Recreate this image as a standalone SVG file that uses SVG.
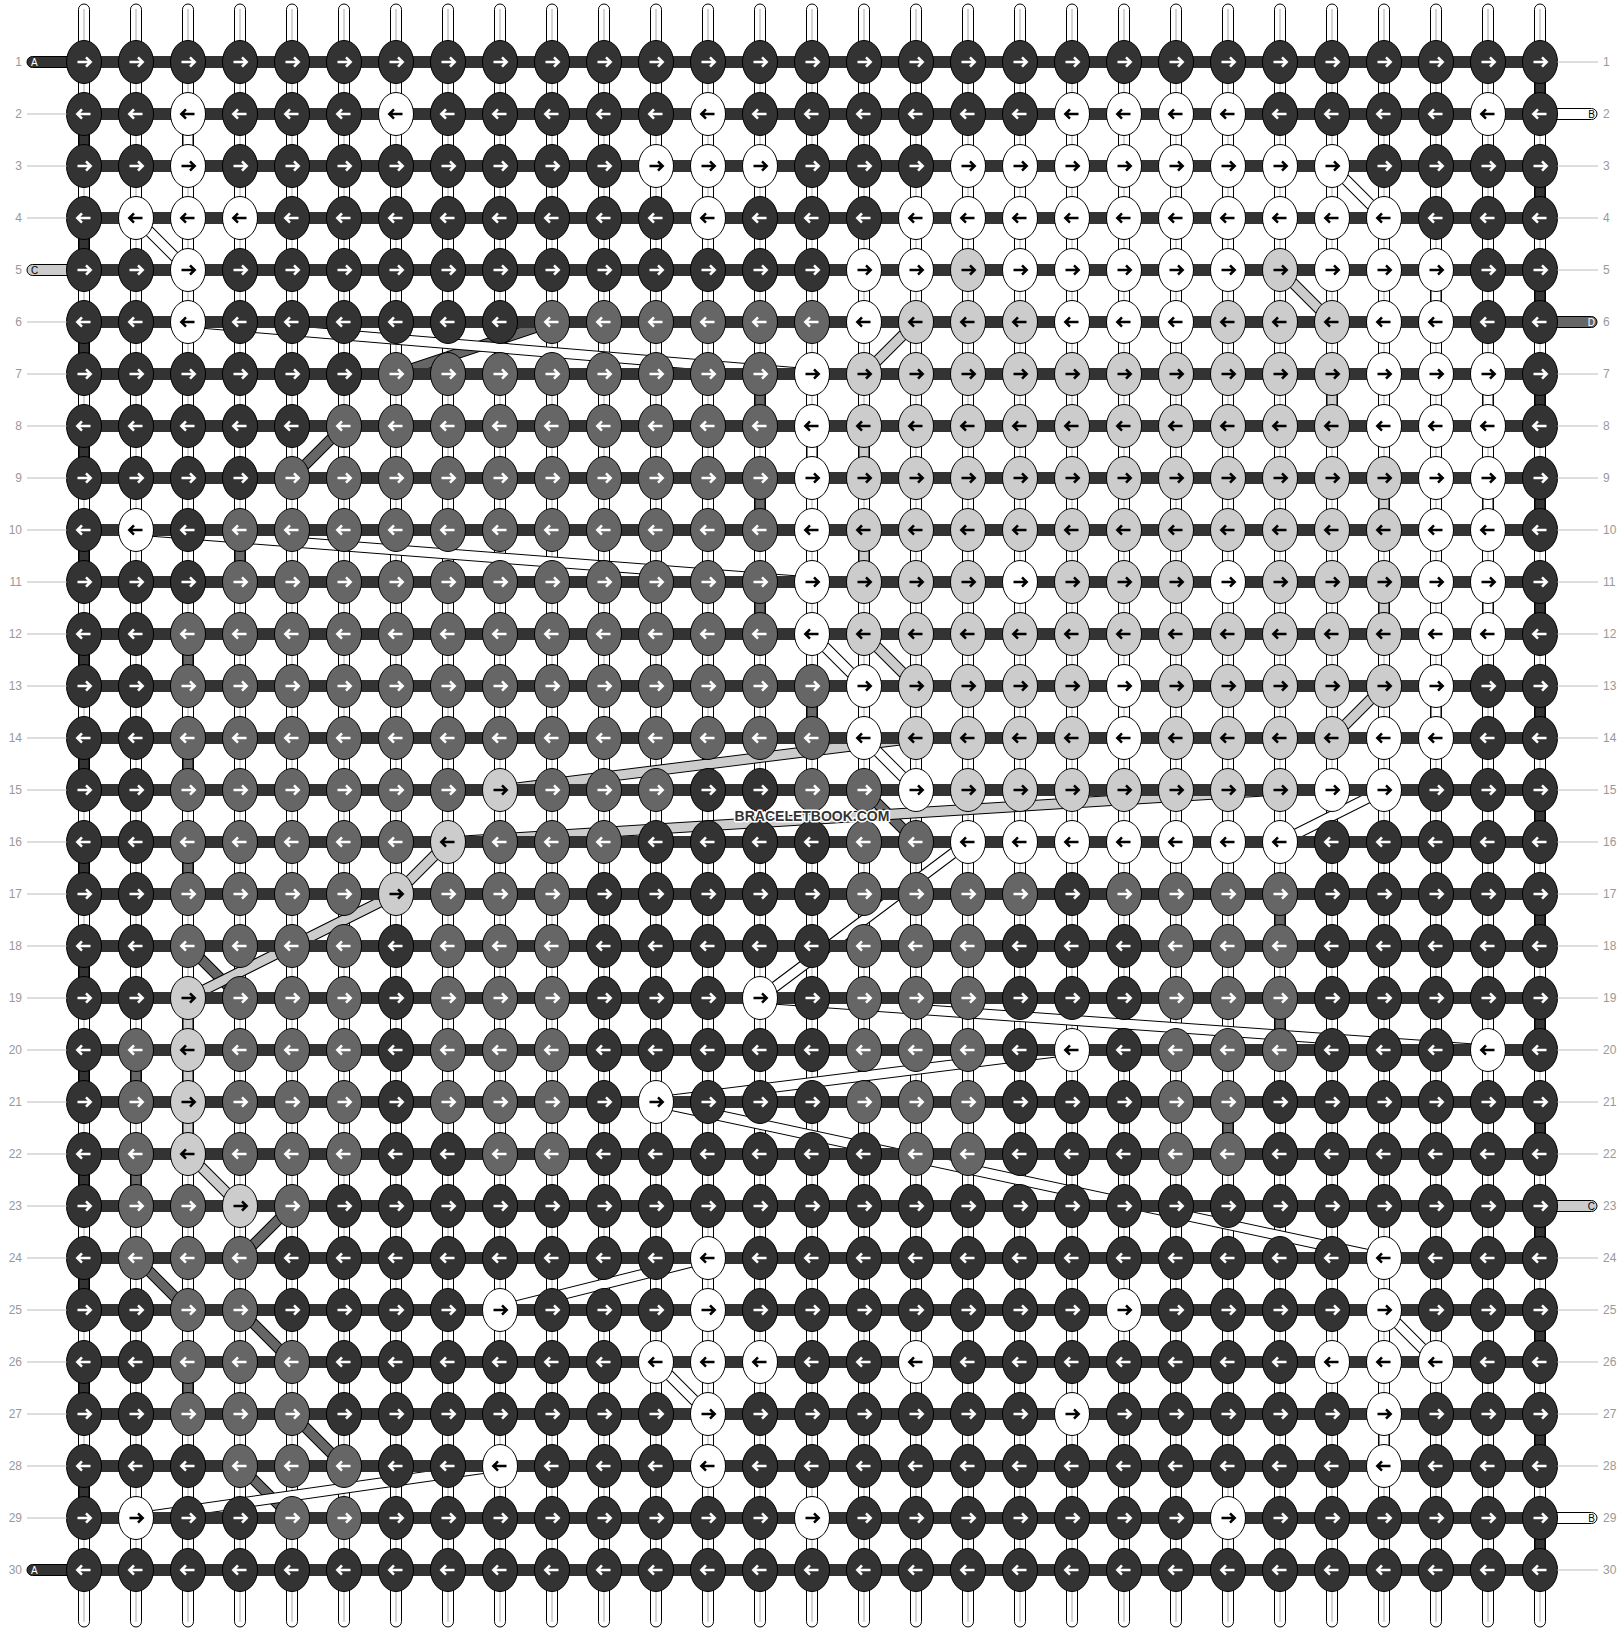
<svg xmlns="http://www.w3.org/2000/svg" width="1624" height="1632" viewBox="0 0 1624 1632">
<style>
.num{font-family:"Liberation Sans",Arial,sans-serif;font-size:12px;fill:#999}
.e{text-anchor:end}
.gl{stroke:#bbb;stroke-width:1;fill:none}
.lt{font-family:"Liberation Sans",Arial,sans-serif;font-size:10px}
.wr{fill:#fff;stroke:#000;stroke-width:1}
.wc{stroke:#aaa;stroke-width:1;fill:none}
.o{stroke:#000;stroke-width:11;fill:none}
.cw{stroke:#fff;stroke-width:9;fill:none}
.cl{stroke:#ccc;stroke-width:9;fill:none}
.cm{stroke:#666;stroke-width:9;fill:none}
.cd{stroke:#333;stroke-width:9;fill:none}
.bar{stroke:#333;stroke-width:12;fill:none}
.cap{stroke:#000;stroke-width:1}
.k{stroke:#000;stroke-width:1}
</style>
<defs>
<path id="ar" d="M-6.5,0H6M2,-4.7L6.7,0L2,4.7" fill="none" stroke-width="2.5"/>
<path id="al" d="M6.5,0H-6M-2,-4.7L-6.7,0L-2,4.7" fill="none" stroke-width="2.5"/>
<g id="dr"><ellipse class="k" rx="17.5" ry="21.5" fill="#333"/><use href="#ar" stroke="#fff"/></g>
<g id="dl"><ellipse class="k" rx="17.5" ry="21.5" fill="#333"/><use href="#al" stroke="#fff"/></g>
<g id="mr"><ellipse class="k" rx="17.5" ry="21.5" fill="#666"/><use href="#ar" stroke="#fff"/></g>
<g id="ml"><ellipse class="k" rx="17.5" ry="21.5" fill="#666"/><use href="#al" stroke="#fff"/></g>
<g id="lr"><ellipse class="k" rx="17.5" ry="21.5" fill="#ccc"/><use href="#ar" stroke="#000"/></g>
<g id="ll"><ellipse class="k" rx="17.5" ry="21.5" fill="#ccc"/><use href="#al" stroke="#000"/></g>
<g id="wr"><ellipse class="k" rx="17.5" ry="21.5" fill="#fff"/><use href="#ar" stroke="#000"/></g>
<g id="wl"><ellipse class="k" rx="17.5" ry="21.5" fill="#fff"/><use href="#al" stroke="#000"/></g>
</defs>
<g id="warps">
<rect class="wr" x="78.5" y="4" width="11" height="1623" rx="5.5"/><rect class="wr" x="130.5" y="4" width="11" height="1623" rx="5.5"/><rect class="wr" x="182.5" y="4" width="11" height="1623" rx="5.5"/><rect class="wr" x="234.5" y="4" width="11" height="1623" rx="5.5"/><rect class="wr" x="286.5" y="4" width="11" height="1623" rx="5.5"/><rect class="wr" x="338.5" y="4" width="11" height="1623" rx="5.5"/><rect class="wr" x="390.5" y="4" width="11" height="1623" rx="5.5"/><rect class="wr" x="442.5" y="4" width="11" height="1623" rx="5.5"/><rect class="wr" x="494.5" y="4" width="11" height="1623" rx="5.5"/><rect class="wr" x="546.5" y="4" width="11" height="1623" rx="5.5"/><rect class="wr" x="598.5" y="4" width="11" height="1623" rx="5.5"/><rect class="wr" x="650.5" y="4" width="11" height="1623" rx="5.5"/><rect class="wr" x="702.5" y="4" width="11" height="1623" rx="5.5"/><rect class="wr" x="754.5" y="4" width="11" height="1623" rx="5.5"/><rect class="wr" x="806.5" y="4" width="11" height="1623" rx="5.5"/><rect class="wr" x="858.5" y="4" width="11" height="1623" rx="5.5"/><rect class="wr" x="910.5" y="4" width="11" height="1623" rx="5.5"/><rect class="wr" x="962.5" y="4" width="11" height="1623" rx="5.5"/><rect class="wr" x="1014.5" y="4" width="11" height="1623" rx="5.5"/><rect class="wr" x="1066.5" y="4" width="11" height="1623" rx="5.5"/><rect class="wr" x="1118.5" y="4" width="11" height="1623" rx="5.5"/><rect class="wr" x="1170.5" y="4" width="11" height="1623" rx="5.5"/><rect class="wr" x="1222.5" y="4" width="11" height="1623" rx="5.5"/><rect class="wr" x="1274.5" y="4" width="11" height="1623" rx="5.5"/><rect class="wr" x="1326.5" y="4" width="11" height="1623" rx="5.5"/><rect class="wr" x="1378.5" y="4" width="11" height="1623" rx="5.5"/><rect class="wr" x="1430.5" y="4" width="11" height="1623" rx="5.5"/><rect class="wr" x="1482.5" y="4" width="11" height="1623" rx="5.5"/><rect class="wr" x="1534.5" y="4" width="11" height="1623" rx="5.5"/>
<path class="wc" d="M84 9V1622M136 9V1622M188 9V1622M240 9V1622M292 9V1622M344 9V1622M396 9V1622M448 9V1622M500 9V1622M552 9V1622M604 9V1622M656 9V1622M708 9V1622M760 9V1622M812 9V1622M864 9V1622M916 9V1622M968 9V1622M1020 9V1622M1072 9V1622M1124 9V1622M1176 9V1622M1228 9V1622M1280 9V1622M1332 9V1622M1384 9V1622M1436 9V1622M1488 9V1622M1540 9V1622"/>
</g>
<g id="connectors">
<g id="bands-medium"><path class="o" d="M552 322L396 374M344 426L292 478M864 790L916 842M188 946L240 998M292 1206L240 1258M136 1258L188 1310M240 1310L292 1362M292 1414L344 1466M240 1466L292 1518"/><path class="cm" d="M552 322L396 374M344 426L292 478M864 790L916 842M188 946L240 998M292 1206L240 1258M136 1258L188 1310M240 1310L292 1362M292 1414L344 1466M240 1466L292 1518"/></g>
<g id="bands-light"><path class="o" d="M1280 270L1332 322M916 322L864 374M864 634L916 686M1384 686L1332 738M916 738L500 790M1280 790L448 842M448 842L396 894M396 894L188 998M188 1154L240 1206"/><path class="cl" d="M1280 270L1332 322M916 322L864 374M864 634L916 686M1384 686L1332 738M916 738L500 790M1280 790L448 842M448 842L396 894M396 894L188 998M188 1154L240 1206"/></g>
<g id="bands-white"><path class="o" d="M1332 166L1384 218M136 218L188 270M188 322L812 374M136 530L812 582M812 634L864 686M864 738L916 790M1384 790L1280 842M968 842L760 998M760 998L1488 1050M1072 1050L656 1102M656 1102L1384 1258M708 1258L500 1310M1384 1310L1436 1362M656 1362L708 1414M500 1466L136 1518"/><path class="cw" d="M1332 166L1384 218M136 218L188 270M188 322L812 374M136 530L812 582M812 634L864 686M864 738L916 790M1384 790L1280 842M968 842L760 998M760 998L1488 1050M1072 1050L656 1102M656 1102L1384 1258M708 1258L500 1310M1384 1310L1436 1362M656 1362L708 1414M500 1466L136 1518"/></g>
<g id="verticals"><path class="o" d="M1540 62V114M1540 166V218M1540 270V322M1540 374V426M1540 478V530M1540 582V634M1540 686V738M1540 790V842M1540 894V946M1540 998V1050M1540 1102V1154M1540 1206V1258M1540 1310V1362M1540 1414V1466M1540 1518V1570M84 114V166M84 218V270M84 322V374M84 426V478M84 530V582M84 634V686M84 738V790M84 842V894M84 946V998M84 1050V1102M84 1154V1206M84 1258V1310M84 1362V1414M84 1466V1518"/><path class="cd" d="M1540 62V114M1540 166V218M1540 270V322M1540 374V426M1540 478V530M1540 582V634M1540 686V738M1540 790V842M1540 894V946M1540 998V1050M1540 1102V1154M1540 1206V1258M1540 1310V1362M1540 1414V1466M1540 1518V1570M84 114V166M84 218V270M84 322V374M84 426V478M84 530V582M84 634V686M84 738V790M84 842V894M84 946V998M84 1050V1102M84 1154V1206M84 1258V1310M84 1362V1414M84 1466V1518"/>
<path class="o" d="M760 374V426M760 478V530M240 530V582M760 582V634M188 634V686M812 686V738M188 738V790M188 842V894M1280 894V946M1280 998V1050M136 1050V1102M1228 1102V1154M136 1154V1206M188 1362V1414"/><path class="cm" d="M760 374V426M760 478V530M240 530V582M760 582V634M188 634V686M812 686V738M188 738V790M188 842V894M1280 894V946M1280 998V1050M136 1050V1102M1228 1102V1154M136 1154V1206M188 1362V1414"/>
<path class="o" d="M1332 374V426M864 426V478M1384 478V530M864 530V582M1384 582V634M188 998V1154"/><path class="cl" d="M1332 374V426M864 426V478M1384 478V530M864 530V582M1384 582V634M188 998V1154"/>
<path class="o" d="M188 114V166M1436 270V322M1488 374V426M812 426V478M1488 478V530M1488 582V634M1436 686V738M1384 1414V1466"/><path class="cw" d="M188 114V166M1436 270V322M1488 374V426M812 426V478M1488 478V530M1488 582V634M1436 686V738M1384 1414V1466"/></g>
<path id="bars" class="bar" d="M84 62H1540M84 114H1540M84 166H1540M84 218H1540M84 270H1540M84 322H1540M84 374H1540M84 426H1540M84 478H1540M84 530H1540M84 582H1540M84 634H1540M84 686H1540M84 738H1540M84 790H1540M84 842H1540M84 894H1540M84 946H1540M84 998H1540M84 1050H1540M84 1102H1540M84 1154H1540M84 1206H1540M84 1258H1540M84 1310H1540M84 1362H1540M84 1414H1540M84 1466H1540M84 1518H1540M84 1570H1540"/>
<g id="string-ends">
<rect class="cap" x="27" y="56.5" width="62" height="11" rx="5.5" fill="#333"/>
<rect class="cap" x="27" y="264.5" width="62" height="11" rx="5.5" fill="#ccc"/>
<rect class="cap" x="27" y="1564.5" width="62" height="11" rx="5.5" fill="#333"/>
<rect class="cap" x="1535" y="108.5" width="62" height="11" rx="5.5" fill="#fff"/>
<rect class="cap" x="1535" y="316.5" width="62" height="11" rx="5.5" fill="#666"/>
<rect class="cap" x="1535" y="1200.5" width="62" height="11" rx="5.5" fill="#ccc"/>
<rect class="cap" x="1535" y="1512.5" width="62" height="11" rx="5.5" fill="#fff"/>
</g>
</g>
<g id="knots">
<g id="row1" transform="translate(0,62)"><use href="#dr" x="84"/><use href="#dr" x="136"/><use href="#dr" x="188"/><use href="#dr" x="240"/><use href="#dr" x="292"/><use href="#dr" x="344"/><use href="#dr" x="396"/><use href="#dr" x="448"/><use href="#dr" x="500"/><use href="#dr" x="552"/><use href="#dr" x="604"/><use href="#dr" x="656"/><use href="#dr" x="708"/><use href="#dr" x="760"/><use href="#dr" x="812"/><use href="#dr" x="864"/><use href="#dr" x="916"/><use href="#dr" x="968"/><use href="#dr" x="1020"/><use href="#dr" x="1072"/><use href="#dr" x="1124"/><use href="#dr" x="1176"/><use href="#dr" x="1228"/><use href="#dr" x="1280"/><use href="#dr" x="1332"/><use href="#dr" x="1384"/><use href="#dr" x="1436"/><use href="#dr" x="1488"/><use href="#dr" x="1540"/></g>
<g id="row2" transform="translate(0,114)"><use href="#dl" x="84"/><use href="#dl" x="136"/><use href="#wl" x="188"/><use href="#dl" x="240"/><use href="#dl" x="292"/><use href="#dl" x="344"/><use href="#wl" x="396"/><use href="#dl" x="448"/><use href="#dl" x="500"/><use href="#dl" x="552"/><use href="#dl" x="604"/><use href="#dl" x="656"/><use href="#wl" x="708"/><use href="#dl" x="760"/><use href="#dl" x="812"/><use href="#dl" x="864"/><use href="#dl" x="916"/><use href="#dl" x="968"/><use href="#dl" x="1020"/><use href="#wl" x="1072"/><use href="#wl" x="1124"/><use href="#wl" x="1176"/><use href="#wl" x="1228"/><use href="#dl" x="1280"/><use href="#dl" x="1332"/><use href="#dl" x="1384"/><use href="#dl" x="1436"/><use href="#wl" x="1488"/><use href="#dl" x="1540"/></g>
<g id="row3" transform="translate(0,166)"><use href="#dr" x="84"/><use href="#dr" x="136"/><use href="#wr" x="188"/><use href="#dr" x="240"/><use href="#dr" x="292"/><use href="#dr" x="344"/><use href="#dr" x="396"/><use href="#dr" x="448"/><use href="#dr" x="500"/><use href="#dr" x="552"/><use href="#dr" x="604"/><use href="#wr" x="656"/><use href="#wr" x="708"/><use href="#wr" x="760"/><use href="#dr" x="812"/><use href="#dr" x="864"/><use href="#dr" x="916"/><use href="#wr" x="968"/><use href="#wr" x="1020"/><use href="#wr" x="1072"/><use href="#wr" x="1124"/><use href="#wr" x="1176"/><use href="#wr" x="1228"/><use href="#wr" x="1280"/><use href="#wr" x="1332"/><use href="#dr" x="1384"/><use href="#dr" x="1436"/><use href="#dr" x="1488"/><use href="#dr" x="1540"/></g>
<g id="row4" transform="translate(0,218)"><use href="#dl" x="84"/><use href="#wl" x="136"/><use href="#wl" x="188"/><use href="#wl" x="240"/><use href="#dl" x="292"/><use href="#dl" x="344"/><use href="#dl" x="396"/><use href="#dl" x="448"/><use href="#dl" x="500"/><use href="#dl" x="552"/><use href="#dl" x="604"/><use href="#dl" x="656"/><use href="#wl" x="708"/><use href="#dl" x="760"/><use href="#dl" x="812"/><use href="#dl" x="864"/><use href="#wl" x="916"/><use href="#wl" x="968"/><use href="#wl" x="1020"/><use href="#wl" x="1072"/><use href="#wl" x="1124"/><use href="#wl" x="1176"/><use href="#wl" x="1228"/><use href="#wl" x="1280"/><use href="#wl" x="1332"/><use href="#wl" x="1384"/><use href="#dl" x="1436"/><use href="#dl" x="1488"/><use href="#dl" x="1540"/></g>
<g id="row5" transform="translate(0,270)"><use href="#dr" x="84"/><use href="#dr" x="136"/><use href="#wr" x="188"/><use href="#dr" x="240"/><use href="#dr" x="292"/><use href="#dr" x="344"/><use href="#dr" x="396"/><use href="#dr" x="448"/><use href="#dr" x="500"/><use href="#dr" x="552"/><use href="#dr" x="604"/><use href="#dr" x="656"/><use href="#dr" x="708"/><use href="#dr" x="760"/><use href="#dr" x="812"/><use href="#wr" x="864"/><use href="#wr" x="916"/><use href="#lr" x="968"/><use href="#wr" x="1020"/><use href="#wr" x="1072"/><use href="#wr" x="1124"/><use href="#wr" x="1176"/><use href="#wr" x="1228"/><use href="#lr" x="1280"/><use href="#wr" x="1332"/><use href="#wr" x="1384"/><use href="#wr" x="1436"/><use href="#dr" x="1488"/><use href="#dr" x="1540"/></g>
<g id="row6" transform="translate(0,322)"><use href="#dl" x="84"/><use href="#dl" x="136"/><use href="#wl" x="188"/><use href="#dl" x="240"/><use href="#dl" x="292"/><use href="#dl" x="344"/><use href="#dl" x="396"/><use href="#dl" x="448"/><use href="#dl" x="500"/><use href="#ml" x="552"/><use href="#ml" x="604"/><use href="#ml" x="656"/><use href="#ml" x="708"/><use href="#ml" x="760"/><use href="#ml" x="812"/><use href="#wl" x="864"/><use href="#ll" x="916"/><use href="#ll" x="968"/><use href="#ll" x="1020"/><use href="#wl" x="1072"/><use href="#wl" x="1124"/><use href="#wl" x="1176"/><use href="#ll" x="1228"/><use href="#ll" x="1280"/><use href="#ll" x="1332"/><use href="#wl" x="1384"/><use href="#wl" x="1436"/><use href="#dl" x="1488"/><use href="#dl" x="1540"/></g>
<g id="row7" transform="translate(0,374)"><use href="#dr" x="84"/><use href="#dr" x="136"/><use href="#dr" x="188"/><use href="#dr" x="240"/><use href="#dr" x="292"/><use href="#dr" x="344"/><use href="#mr" x="396"/><use href="#mr" x="448"/><use href="#mr" x="500"/><use href="#mr" x="552"/><use href="#mr" x="604"/><use href="#mr" x="656"/><use href="#mr" x="708"/><use href="#mr" x="760"/><use href="#wr" x="812"/><use href="#lr" x="864"/><use href="#lr" x="916"/><use href="#lr" x="968"/><use href="#lr" x="1020"/><use href="#lr" x="1072"/><use href="#lr" x="1124"/><use href="#lr" x="1176"/><use href="#lr" x="1228"/><use href="#lr" x="1280"/><use href="#lr" x="1332"/><use href="#wr" x="1384"/><use href="#wr" x="1436"/><use href="#wr" x="1488"/><use href="#dr" x="1540"/></g>
<g id="row8" transform="translate(0,426)"><use href="#dl" x="84"/><use href="#dl" x="136"/><use href="#dl" x="188"/><use href="#dl" x="240"/><use href="#dl" x="292"/><use href="#ml" x="344"/><use href="#ml" x="396"/><use href="#ml" x="448"/><use href="#ml" x="500"/><use href="#ml" x="552"/><use href="#ml" x="604"/><use href="#ml" x="656"/><use href="#ml" x="708"/><use href="#ml" x="760"/><use href="#wl" x="812"/><use href="#ll" x="864"/><use href="#ll" x="916"/><use href="#ll" x="968"/><use href="#ll" x="1020"/><use href="#ll" x="1072"/><use href="#ll" x="1124"/><use href="#ll" x="1176"/><use href="#ll" x="1228"/><use href="#ll" x="1280"/><use href="#ll" x="1332"/><use href="#wl" x="1384"/><use href="#wl" x="1436"/><use href="#wl" x="1488"/><use href="#dl" x="1540"/></g>
<g id="row9" transform="translate(0,478)"><use href="#dr" x="84"/><use href="#dr" x="136"/><use href="#dr" x="188"/><use href="#dr" x="240"/><use href="#mr" x="292"/><use href="#mr" x="344"/><use href="#mr" x="396"/><use href="#mr" x="448"/><use href="#mr" x="500"/><use href="#mr" x="552"/><use href="#mr" x="604"/><use href="#mr" x="656"/><use href="#mr" x="708"/><use href="#mr" x="760"/><use href="#wr" x="812"/><use href="#lr" x="864"/><use href="#lr" x="916"/><use href="#lr" x="968"/><use href="#lr" x="1020"/><use href="#lr" x="1072"/><use href="#lr" x="1124"/><use href="#lr" x="1176"/><use href="#lr" x="1228"/><use href="#lr" x="1280"/><use href="#lr" x="1332"/><use href="#lr" x="1384"/><use href="#wr" x="1436"/><use href="#wr" x="1488"/><use href="#dr" x="1540"/></g>
<g id="row10" transform="translate(0,530)"><use href="#dl" x="84"/><use href="#wl" x="136"/><use href="#dl" x="188"/><use href="#ml" x="240"/><use href="#ml" x="292"/><use href="#ml" x="344"/><use href="#ml" x="396"/><use href="#ml" x="448"/><use href="#ml" x="500"/><use href="#ml" x="552"/><use href="#ml" x="604"/><use href="#ml" x="656"/><use href="#ml" x="708"/><use href="#ml" x="760"/><use href="#wl" x="812"/><use href="#ll" x="864"/><use href="#ll" x="916"/><use href="#ll" x="968"/><use href="#ll" x="1020"/><use href="#ll" x="1072"/><use href="#ll" x="1124"/><use href="#ll" x="1176"/><use href="#ll" x="1228"/><use href="#ll" x="1280"/><use href="#ll" x="1332"/><use href="#ll" x="1384"/><use href="#wl" x="1436"/><use href="#wl" x="1488"/><use href="#dl" x="1540"/></g>
<g id="row11" transform="translate(0,582)"><use href="#dr" x="84"/><use href="#dr" x="136"/><use href="#dr" x="188"/><use href="#mr" x="240"/><use href="#mr" x="292"/><use href="#mr" x="344"/><use href="#mr" x="396"/><use href="#mr" x="448"/><use href="#mr" x="500"/><use href="#mr" x="552"/><use href="#mr" x="604"/><use href="#mr" x="656"/><use href="#mr" x="708"/><use href="#mr" x="760"/><use href="#wr" x="812"/><use href="#lr" x="864"/><use href="#lr" x="916"/><use href="#lr" x="968"/><use href="#wr" x="1020"/><use href="#lr" x="1072"/><use href="#lr" x="1124"/><use href="#lr" x="1176"/><use href="#wr" x="1228"/><use href="#lr" x="1280"/><use href="#lr" x="1332"/><use href="#lr" x="1384"/><use href="#wr" x="1436"/><use href="#wr" x="1488"/><use href="#dr" x="1540"/></g>
<g id="row12" transform="translate(0,634)"><use href="#dl" x="84"/><use href="#dl" x="136"/><use href="#ml" x="188"/><use href="#ml" x="240"/><use href="#ml" x="292"/><use href="#ml" x="344"/><use href="#ml" x="396"/><use href="#ml" x="448"/><use href="#ml" x="500"/><use href="#ml" x="552"/><use href="#ml" x="604"/><use href="#ml" x="656"/><use href="#ml" x="708"/><use href="#ml" x="760"/><use href="#wl" x="812"/><use href="#ll" x="864"/><use href="#ll" x="916"/><use href="#ll" x="968"/><use href="#ll" x="1020"/><use href="#ll" x="1072"/><use href="#ll" x="1124"/><use href="#ll" x="1176"/><use href="#ll" x="1228"/><use href="#ll" x="1280"/><use href="#ll" x="1332"/><use href="#ll" x="1384"/><use href="#wl" x="1436"/><use href="#wl" x="1488"/><use href="#dl" x="1540"/></g>
<g id="row13" transform="translate(0,686)"><use href="#dr" x="84"/><use href="#dr" x="136"/><use href="#mr" x="188"/><use href="#mr" x="240"/><use href="#mr" x="292"/><use href="#mr" x="344"/><use href="#mr" x="396"/><use href="#mr" x="448"/><use href="#mr" x="500"/><use href="#mr" x="552"/><use href="#mr" x="604"/><use href="#mr" x="656"/><use href="#mr" x="708"/><use href="#mr" x="760"/><use href="#mr" x="812"/><use href="#wr" x="864"/><use href="#lr" x="916"/><use href="#lr" x="968"/><use href="#lr" x="1020"/><use href="#lr" x="1072"/><use href="#wr" x="1124"/><use href="#lr" x="1176"/><use href="#lr" x="1228"/><use href="#lr" x="1280"/><use href="#lr" x="1332"/><use href="#lr" x="1384"/><use href="#wr" x="1436"/><use href="#dr" x="1488"/><use href="#dr" x="1540"/></g>
<g id="row14" transform="translate(0,738)"><use href="#dl" x="84"/><use href="#dl" x="136"/><use href="#ml" x="188"/><use href="#ml" x="240"/><use href="#ml" x="292"/><use href="#ml" x="344"/><use href="#ml" x="396"/><use href="#ml" x="448"/><use href="#ml" x="500"/><use href="#ml" x="552"/><use href="#ml" x="604"/><use href="#ml" x="656"/><use href="#ml" x="708"/><use href="#ml" x="760"/><use href="#ml" x="812"/><use href="#wl" x="864"/><use href="#ll" x="916"/><use href="#ll" x="968"/><use href="#ll" x="1020"/><use href="#ll" x="1072"/><use href="#wl" x="1124"/><use href="#ll" x="1176"/><use href="#ll" x="1228"/><use href="#ll" x="1280"/><use href="#ll" x="1332"/><use href="#wl" x="1384"/><use href="#wl" x="1436"/><use href="#dl" x="1488"/><use href="#dl" x="1540"/></g>
<g id="row15" transform="translate(0,790)"><use href="#dr" x="84"/><use href="#dr" x="136"/><use href="#mr" x="188"/><use href="#mr" x="240"/><use href="#mr" x="292"/><use href="#mr" x="344"/><use href="#mr" x="396"/><use href="#mr" x="448"/><use href="#lr" x="500"/><use href="#mr" x="552"/><use href="#mr" x="604"/><use href="#mr" x="656"/><use href="#dr" x="708"/><use href="#dr" x="760"/><use href="#mr" x="812"/><use href="#mr" x="864"/><use href="#wr" x="916"/><use href="#lr" x="968"/><use href="#lr" x="1020"/><use href="#lr" x="1072"/><use href="#lr" x="1124"/><use href="#lr" x="1176"/><use href="#lr" x="1228"/><use href="#lr" x="1280"/><use href="#wr" x="1332"/><use href="#wr" x="1384"/><use href="#dr" x="1436"/><use href="#dr" x="1488"/><use href="#dr" x="1540"/></g>
<g id="row16" transform="translate(0,842)"><use href="#dl" x="84"/><use href="#dl" x="136"/><use href="#ml" x="188"/><use href="#ml" x="240"/><use href="#ml" x="292"/><use href="#ml" x="344"/><use href="#ml" x="396"/><use href="#ll" x="448"/><use href="#ml" x="500"/><use href="#ml" x="552"/><use href="#ml" x="604"/><use href="#dl" x="656"/><use href="#dl" x="708"/><use href="#dl" x="760"/><use href="#dl" x="812"/><use href="#ml" x="864"/><use href="#ml" x="916"/><use href="#wl" x="968"/><use href="#wl" x="1020"/><use href="#wl" x="1072"/><use href="#wl" x="1124"/><use href="#wl" x="1176"/><use href="#wl" x="1228"/><use href="#wl" x="1280"/><use href="#dl" x="1332"/><use href="#dl" x="1384"/><use href="#dl" x="1436"/><use href="#dl" x="1488"/><use href="#dl" x="1540"/></g>
<g id="row17" transform="translate(0,894)"><use href="#dr" x="84"/><use href="#dr" x="136"/><use href="#mr" x="188"/><use href="#mr" x="240"/><use href="#mr" x="292"/><use href="#mr" x="344"/><use href="#lr" x="396"/><use href="#mr" x="448"/><use href="#mr" x="500"/><use href="#mr" x="552"/><use href="#dr" x="604"/><use href="#dr" x="656"/><use href="#dr" x="708"/><use href="#dr" x="760"/><use href="#dr" x="812"/><use href="#mr" x="864"/><use href="#mr" x="916"/><use href="#mr" x="968"/><use href="#mr" x="1020"/><use href="#dr" x="1072"/><use href="#mr" x="1124"/><use href="#mr" x="1176"/><use href="#mr" x="1228"/><use href="#mr" x="1280"/><use href="#dr" x="1332"/><use href="#dr" x="1384"/><use href="#dr" x="1436"/><use href="#dr" x="1488"/><use href="#dr" x="1540"/></g>
<g id="row18" transform="translate(0,946)"><use href="#dl" x="84"/><use href="#dl" x="136"/><use href="#ml" x="188"/><use href="#ml" x="240"/><use href="#ml" x="292"/><use href="#ml" x="344"/><use href="#dl" x="396"/><use href="#ml" x="448"/><use href="#ml" x="500"/><use href="#ml" x="552"/><use href="#dl" x="604"/><use href="#dl" x="656"/><use href="#dl" x="708"/><use href="#dl" x="760"/><use href="#dl" x="812"/><use href="#ml" x="864"/><use href="#ml" x="916"/><use href="#ml" x="968"/><use href="#dl" x="1020"/><use href="#dl" x="1072"/><use href="#dl" x="1124"/><use href="#ml" x="1176"/><use href="#ml" x="1228"/><use href="#ml" x="1280"/><use href="#dl" x="1332"/><use href="#dl" x="1384"/><use href="#dl" x="1436"/><use href="#dl" x="1488"/><use href="#dl" x="1540"/></g>
<g id="row19" transform="translate(0,998)"><use href="#dr" x="84"/><use href="#dr" x="136"/><use href="#lr" x="188"/><use href="#mr" x="240"/><use href="#mr" x="292"/><use href="#mr" x="344"/><use href="#dr" x="396"/><use href="#mr" x="448"/><use href="#mr" x="500"/><use href="#mr" x="552"/><use href="#dr" x="604"/><use href="#dr" x="656"/><use href="#dr" x="708"/><use href="#wr" x="760"/><use href="#dr" x="812"/><use href="#mr" x="864"/><use href="#mr" x="916"/><use href="#mr" x="968"/><use href="#dr" x="1020"/><use href="#dr" x="1072"/><use href="#dr" x="1124"/><use href="#mr" x="1176"/><use href="#mr" x="1228"/><use href="#mr" x="1280"/><use href="#dr" x="1332"/><use href="#dr" x="1384"/><use href="#dr" x="1436"/><use href="#dr" x="1488"/><use href="#dr" x="1540"/></g>
<g id="row20" transform="translate(0,1050)"><use href="#dl" x="84"/><use href="#ml" x="136"/><use href="#ll" x="188"/><use href="#ml" x="240"/><use href="#ml" x="292"/><use href="#ml" x="344"/><use href="#dl" x="396"/><use href="#ml" x="448"/><use href="#ml" x="500"/><use href="#ml" x="552"/><use href="#dl" x="604"/><use href="#dl" x="656"/><use href="#dl" x="708"/><use href="#dl" x="760"/><use href="#dl" x="812"/><use href="#ml" x="864"/><use href="#ml" x="916"/><use href="#ml" x="968"/><use href="#dl" x="1020"/><use href="#wl" x="1072"/><use href="#dl" x="1124"/><use href="#ml" x="1176"/><use href="#ml" x="1228"/><use href="#ml" x="1280"/><use href="#dl" x="1332"/><use href="#dl" x="1384"/><use href="#dl" x="1436"/><use href="#wl" x="1488"/><use href="#dl" x="1540"/></g>
<g id="row21" transform="translate(0,1102)"><use href="#dr" x="84"/><use href="#mr" x="136"/><use href="#lr" x="188"/><use href="#mr" x="240"/><use href="#mr" x="292"/><use href="#mr" x="344"/><use href="#dr" x="396"/><use href="#mr" x="448"/><use href="#mr" x="500"/><use href="#mr" x="552"/><use href="#dr" x="604"/><use href="#wr" x="656"/><use href="#dr" x="708"/><use href="#dr" x="760"/><use href="#dr" x="812"/><use href="#mr" x="864"/><use href="#mr" x="916"/><use href="#mr" x="968"/><use href="#dr" x="1020"/><use href="#dr" x="1072"/><use href="#dr" x="1124"/><use href="#mr" x="1176"/><use href="#mr" x="1228"/><use href="#dr" x="1280"/><use href="#dr" x="1332"/><use href="#dr" x="1384"/><use href="#dr" x="1436"/><use href="#dr" x="1488"/><use href="#dr" x="1540"/></g>
<g id="row22" transform="translate(0,1154)"><use href="#dl" x="84"/><use href="#ml" x="136"/><use href="#ll" x="188"/><use href="#ml" x="240"/><use href="#ml" x="292"/><use href="#ml" x="344"/><use href="#dl" x="396"/><use href="#dl" x="448"/><use href="#ml" x="500"/><use href="#ml" x="552"/><use href="#dl" x="604"/><use href="#dl" x="656"/><use href="#dl" x="708"/><use href="#dl" x="760"/><use href="#dl" x="812"/><use href="#dl" x="864"/><use href="#ml" x="916"/><use href="#ml" x="968"/><use href="#dl" x="1020"/><use href="#dl" x="1072"/><use href="#dl" x="1124"/><use href="#ml" x="1176"/><use href="#ml" x="1228"/><use href="#dl" x="1280"/><use href="#dl" x="1332"/><use href="#dl" x="1384"/><use href="#dl" x="1436"/><use href="#dl" x="1488"/><use href="#dl" x="1540"/></g>
<g id="row23" transform="translate(0,1206)"><use href="#dr" x="84"/><use href="#mr" x="136"/><use href="#mr" x="188"/><use href="#lr" x="240"/><use href="#mr" x="292"/><use href="#dr" x="344"/><use href="#dr" x="396"/><use href="#dr" x="448"/><use href="#dr" x="500"/><use href="#dr" x="552"/><use href="#dr" x="604"/><use href="#dr" x="656"/><use href="#dr" x="708"/><use href="#dr" x="760"/><use href="#dr" x="812"/><use href="#dr" x="864"/><use href="#dr" x="916"/><use href="#dr" x="968"/><use href="#dr" x="1020"/><use href="#dr" x="1072"/><use href="#dr" x="1124"/><use href="#dr" x="1176"/><use href="#dr" x="1228"/><use href="#dr" x="1280"/><use href="#dr" x="1332"/><use href="#dr" x="1384"/><use href="#dr" x="1436"/><use href="#dr" x="1488"/><use href="#dr" x="1540"/></g>
<g id="row24" transform="translate(0,1258)"><use href="#dl" x="84"/><use href="#ml" x="136"/><use href="#ml" x="188"/><use href="#ml" x="240"/><use href="#dl" x="292"/><use href="#dl" x="344"/><use href="#dl" x="396"/><use href="#dl" x="448"/><use href="#dl" x="500"/><use href="#dl" x="552"/><use href="#dl" x="604"/><use href="#dl" x="656"/><use href="#wl" x="708"/><use href="#dl" x="760"/><use href="#dl" x="812"/><use href="#dl" x="864"/><use href="#dl" x="916"/><use href="#dl" x="968"/><use href="#dl" x="1020"/><use href="#dl" x="1072"/><use href="#dl" x="1124"/><use href="#dl" x="1176"/><use href="#dl" x="1228"/><use href="#dl" x="1280"/><use href="#dl" x="1332"/><use href="#wl" x="1384"/><use href="#dl" x="1436"/><use href="#dl" x="1488"/><use href="#dl" x="1540"/></g>
<g id="row25" transform="translate(0,1310)"><use href="#dr" x="84"/><use href="#dr" x="136"/><use href="#mr" x="188"/><use href="#mr" x="240"/><use href="#dr" x="292"/><use href="#dr" x="344"/><use href="#dr" x="396"/><use href="#dr" x="448"/><use href="#wr" x="500"/><use href="#dr" x="552"/><use href="#dr" x="604"/><use href="#dr" x="656"/><use href="#wr" x="708"/><use href="#dr" x="760"/><use href="#dr" x="812"/><use href="#dr" x="864"/><use href="#dr" x="916"/><use href="#dr" x="968"/><use href="#dr" x="1020"/><use href="#dr" x="1072"/><use href="#wr" x="1124"/><use href="#dr" x="1176"/><use href="#dr" x="1228"/><use href="#dr" x="1280"/><use href="#dr" x="1332"/><use href="#wr" x="1384"/><use href="#dr" x="1436"/><use href="#dr" x="1488"/><use href="#dr" x="1540"/></g>
<g id="row26" transform="translate(0,1362)"><use href="#dl" x="84"/><use href="#dl" x="136"/><use href="#ml" x="188"/><use href="#ml" x="240"/><use href="#ml" x="292"/><use href="#dl" x="344"/><use href="#dl" x="396"/><use href="#dl" x="448"/><use href="#dl" x="500"/><use href="#dl" x="552"/><use href="#dl" x="604"/><use href="#wl" x="656"/><use href="#wl" x="708"/><use href="#wl" x="760"/><use href="#dl" x="812"/><use href="#dl" x="864"/><use href="#wl" x="916"/><use href="#dl" x="968"/><use href="#dl" x="1020"/><use href="#dl" x="1072"/><use href="#dl" x="1124"/><use href="#dl" x="1176"/><use href="#dl" x="1228"/><use href="#dl" x="1280"/><use href="#wl" x="1332"/><use href="#wl" x="1384"/><use href="#wl" x="1436"/><use href="#dl" x="1488"/><use href="#dl" x="1540"/></g>
<g id="row27" transform="translate(0,1414)"><use href="#dr" x="84"/><use href="#dr" x="136"/><use href="#mr" x="188"/><use href="#mr" x="240"/><use href="#mr" x="292"/><use href="#dr" x="344"/><use href="#dr" x="396"/><use href="#dr" x="448"/><use href="#dr" x="500"/><use href="#dr" x="552"/><use href="#dr" x="604"/><use href="#dr" x="656"/><use href="#wr" x="708"/><use href="#dr" x="760"/><use href="#dr" x="812"/><use href="#dr" x="864"/><use href="#dr" x="916"/><use href="#dr" x="968"/><use href="#dr" x="1020"/><use href="#wr" x="1072"/><use href="#dr" x="1124"/><use href="#dr" x="1176"/><use href="#dr" x="1228"/><use href="#dr" x="1280"/><use href="#dr" x="1332"/><use href="#wr" x="1384"/><use href="#dr" x="1436"/><use href="#dr" x="1488"/><use href="#dr" x="1540"/></g>
<g id="row28" transform="translate(0,1466)"><use href="#dl" x="84"/><use href="#dl" x="136"/><use href="#dl" x="188"/><use href="#ml" x="240"/><use href="#ml" x="292"/><use href="#ml" x="344"/><use href="#dl" x="396"/><use href="#dl" x="448"/><use href="#wl" x="500"/><use href="#dl" x="552"/><use href="#dl" x="604"/><use href="#dl" x="656"/><use href="#wl" x="708"/><use href="#dl" x="760"/><use href="#dl" x="812"/><use href="#dl" x="864"/><use href="#dl" x="916"/><use href="#dl" x="968"/><use href="#dl" x="1020"/><use href="#dl" x="1072"/><use href="#dl" x="1124"/><use href="#dl" x="1176"/><use href="#dl" x="1228"/><use href="#dl" x="1280"/><use href="#dl" x="1332"/><use href="#wl" x="1384"/><use href="#dl" x="1436"/><use href="#dl" x="1488"/><use href="#dl" x="1540"/></g>
<g id="row29" transform="translate(0,1518)"><use href="#dr" x="84"/><use href="#wr" x="136"/><use href="#dr" x="188"/><use href="#dr" x="240"/><use href="#mr" x="292"/><use href="#mr" x="344"/><use href="#dr" x="396"/><use href="#dr" x="448"/><use href="#dr" x="500"/><use href="#dr" x="552"/><use href="#dr" x="604"/><use href="#dr" x="656"/><use href="#dr" x="708"/><use href="#dr" x="760"/><use href="#wr" x="812"/><use href="#dr" x="864"/><use href="#dr" x="916"/><use href="#dr" x="968"/><use href="#dr" x="1020"/><use href="#dr" x="1072"/><use href="#dr" x="1124"/><use href="#dr" x="1176"/><use href="#wr" x="1228"/><use href="#dr" x="1280"/><use href="#dr" x="1332"/><use href="#dr" x="1384"/><use href="#dr" x="1436"/><use href="#dr" x="1488"/><use href="#dr" x="1540"/></g>
<g id="row30" transform="translate(0,1570)"><use href="#dl" x="84"/><use href="#dl" x="136"/><use href="#dl" x="188"/><use href="#dl" x="240"/><use href="#dl" x="292"/><use href="#dl" x="344"/><use href="#dl" x="396"/><use href="#dl" x="448"/><use href="#dl" x="500"/><use href="#dl" x="552"/><use href="#dl" x="604"/><use href="#dl" x="656"/><use href="#dl" x="708"/><use href="#dl" x="760"/><use href="#dl" x="812"/><use href="#dl" x="864"/><use href="#dl" x="916"/><use href="#dl" x="968"/><use href="#dl" x="1020"/><use href="#dl" x="1072"/><use href="#dl" x="1124"/><use href="#dl" x="1176"/><use href="#dl" x="1228"/><use href="#dl" x="1280"/><use href="#dl" x="1332"/><use href="#dl" x="1384"/><use href="#dl" x="1436"/><use href="#dl" x="1488"/><use href="#dl" x="1540"/></g>
</g>
<g id="labels">
<path class="gl" d="M27 114H67M27 166H67M27 218H67M27 322H67M27 374H67M27 426H67M27 478H67M27 530H67M27 582H67M27 634H67M27 686H67M27 738H67M27 790H67M27 842H67M27 894H67M27 946H67M27 998H67M27 1050H67M27 1102H67M27 1154H67M27 1206H67M27 1258H67M27 1310H67M27 1362H67M27 1414H67M27 1466H67M27 1518H67M1557 62H1598M1557 166H1598M1557 218H1598M1557 270H1598M1557 374H1598M1557 426H1598M1557 478H1598M1557 530H1598M1557 582H1598M1557 634H1598M1557 686H1598M1557 738H1598M1557 790H1598M1557 842H1598M1557 894H1598M1557 946H1598M1557 998H1598M1557 1050H1598M1557 1102H1598M1557 1154H1598M1557 1258H1598M1557 1310H1598M1557 1362H1598M1557 1414H1598M1557 1466H1598M1557 1570H1598"/>
<g class="num e">
<text x="22" y="66.3">1</text><text x="22" y="118.3">2</text><text x="22" y="170.3">3</text><text x="22" y="222.3">4</text><text x="22" y="274.3">5</text><text x="22" y="326.3">6</text><text x="22" y="378.3">7</text><text x="22" y="430.3">8</text><text x="22" y="482.3">9</text><text x="22" y="534.3">10</text><text x="22" y="586.3">11</text><text x="22" y="638.3">12</text><text x="22" y="690.3">13</text><text x="22" y="742.3">14</text><text x="22" y="794.3">15</text><text x="22" y="846.3">16</text><text x="22" y="898.3">17</text><text x="22" y="950.3">18</text><text x="22" y="1002.3">19</text><text x="22" y="1054.3">20</text><text x="22" y="1106.3">21</text><text x="22" y="1158.3">22</text><text x="22" y="1210.3">23</text><text x="22" y="1262.3">24</text><text x="22" y="1314.3">25</text><text x="22" y="1366.3">26</text><text x="22" y="1418.3">27</text><text x="22" y="1470.3">28</text><text x="22" y="1522.3">29</text><text x="22" y="1574.3">30</text>
</g>
<g class="num">
<text x="1603" y="66.3">1</text><text x="1603" y="118.3">2</text><text x="1603" y="170.3">3</text><text x="1603" y="222.3">4</text><text x="1603" y="274.3">5</text><text x="1603" y="326.3">6</text><text x="1603" y="378.3">7</text><text x="1603" y="430.3">8</text><text x="1603" y="482.3">9</text><text x="1603" y="534.3">10</text><text x="1603" y="586.3">11</text><text x="1603" y="638.3">12</text><text x="1603" y="690.3">13</text><text x="1603" y="742.3">14</text><text x="1603" y="794.3">15</text><text x="1603" y="846.3">16</text><text x="1603" y="898.3">17</text><text x="1603" y="950.3">18</text><text x="1603" y="1002.3">19</text><text x="1603" y="1054.3">20</text><text x="1603" y="1106.3">21</text><text x="1603" y="1158.3">22</text><text x="1603" y="1210.3">23</text><text x="1603" y="1262.3">24</text><text x="1603" y="1314.3">25</text><text x="1603" y="1366.3">26</text><text x="1603" y="1418.3">27</text><text x="1603" y="1470.3">28</text><text x="1603" y="1522.3">29</text><text x="1603" y="1574.3">30</text>
</g>
<g class="lt">
<text x="31" y="65.6" fill="#fff">A</text><text x="31" y="273.6" fill="#000">C</text><text x="31" y="1573.6" fill="#fff">A</text>
<text x="1595" y="117.6" fill="#000" text-anchor="end">B</text><text x="1595" y="325.6" fill="#fff" text-anchor="end">D</text><text x="1595" y="1209.6" fill="#000" text-anchor="end">C</text><text x="1595" y="1521.6" fill="#000" text-anchor="end">B</text>
</g>
</g>
<text id="watermark" x="812" y="820.5" text-anchor="middle" font-family="Liberation Sans, Arial, sans-serif" font-weight="bold" font-size="14" fill="#333" stroke="#fff" stroke-width="3" stroke-linejoin="round" paint-order="stroke">BRACELETBOOK.COM</text>
</svg>
